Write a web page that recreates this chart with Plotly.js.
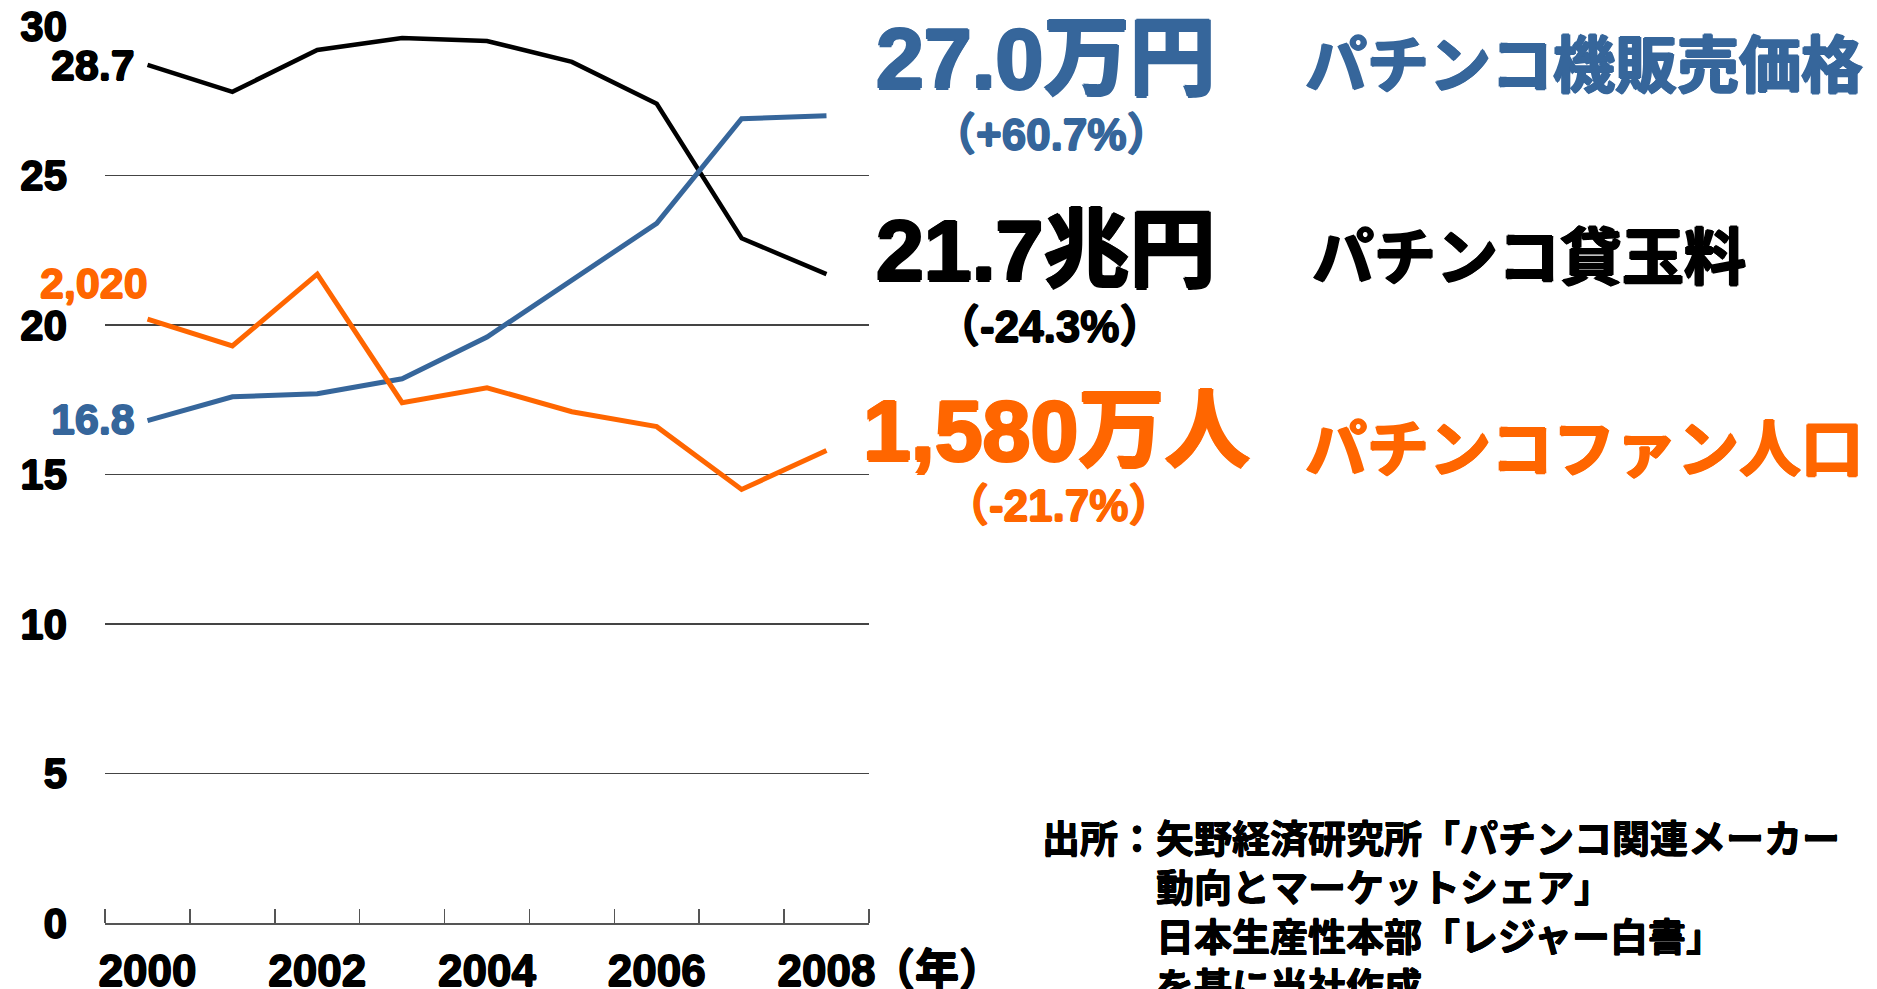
<!DOCTYPE html>
<html>
<head>
<meta charset="utf-8">
<script src="https://cdn.plot.ly/plotly-3.0.1.min.js"></script>
<style>
  html, body { margin: 0; padding: 0; background: #fff; }
  #chart { width: 1877px; height: 989px; }
</style>
</head>
<body>
<div id="chart"></div>
<script>
// ---- data ----
const years = [2000, 2001, 2002, 2003, 2004, 2005, 2006, 2007, 2008];
const yearLabels = ['2000', '', '2002', '', '2004', '', '2006', '', '2008'];
// パチンコ機販売価格 (万円)
const machinePrice = [16.8, 17.6, 17.7, 18.2, 19.6, 21.5, 23.4, 26.9, 27.0];
// パチンコ貸玉料 (兆円)
const rentalRevenue = [28.7, 27.8, 29.2, 29.6, 29.5, 28.8, 27.4, 22.9, 21.7];
// パチンコファン人口 (万人) — drawn on the chart divided by 100
const fanPopulation = [2020, 1930, 2170, 1740, 1790, 1710, 1660, 1450, 1580];
const yTicks = [0, 5, 10, 15, 20, 25, 30];

const seriesNames = ['パチンコ機販売価格', 'パチンコ貸玉料', 'パチンコファン人口'];
const endLabels = ['27.0万円', '21.7兆円', '1,580万人'];
const changeLabels = ['（+60.7%）', '（-24.3%）', '（-21.7%）'];
const unitLabel = '（年）';
const sourceLines = [
  '出所：矢野経済研究所「パチンコ関連メーカー',
  '　　　動向とマーケットシェア」',
  '　　　日本生産性本部「レジャー白書」',
  '　　　を基に当社作成'
];

// ---- styles ----
const BLUE = '#36669B';
const BLACK = '#000000';
const ORANGE = '#FF6600';
const FONT = 'Liberation Sans, Arial, Noto Sans CJK JP, sans-serif';
const CJK = 'Noto Sans CJK JP, sans-serif';

const W = 1877, H = 989;
const L = 105, R = 869, T = 26, B = 923;
const px = x => (x - L) / (R - L);
const py = y => (B - y) / (B - T);

// heavier strokes via a thin outline shadow
const heavy = (c, w) => `${w}px 0px 0px ${c}, -${w}px 0px 0px ${c}, 0px ${w}px 0px ${c}, 0px -${w}px 0px ${c}`;
const fnt = (size, color, w, family) => ({ family: family || FONT, size: size, color: color,
  weight: 'bold', shadow: w ? heavy(color, w) : 'none' });

const fanScaled = fanPopulation.map(v => v / 100);
// category boundaries (tick marks sit between the years)
const boundaries = years.map(y => y - 0.5).concat([years[years.length - 1] + 0.5]);
const xRange = [boundaries[0] - 0.001, boundaries[boundaries.length - 1] + 0.001];

const traces = [
  { x: years, y: rentalRevenue, type: 'scatter', mode: 'lines', name: seriesNames[1],
    line: { color: BLACK, width: 4.5 }, hoverinfo: 'skip' },
  { x: years, y: machinePrice, type: 'scatter', mode: 'lines', name: seriesNames[0],
    line: { color: BLUE, width: 5 }, hoverinfo: 'skip' },
  { x: years, y: fanScaled, type: 'scatter', mode: 'lines', name: seriesNames[2],
    line: { color: ORANGE, width: 5 }, hoverinfo: 'skip' }
];

function ann(text, x, y, font, xanchor) {
  return { text: text, xref: 'paper', yref: 'paper', x: px(x), y: py(y),
    xanchor: xanchor || 'left', yanchor: 'middle', showarrow: false, align: 'left', font: font };
}
function dataAnn(text, yval, color, xshift, yshift) {
  return { text: text, xref: 'x', yref: 'y', x: years[0], y: yval,
    xanchor: 'right', yanchor: 'middle', xshift: xshift, yshift: yshift, showarrow: false,
    font: fnt(43, color, 0.8) };
}

const fmt = n => n.toLocaleString('en-US');

const annotations = [
  // first-point data labels
  dataAnn(rentalRevenue[0].toFixed(1), rentalRevenue[0], BLACK, -11, 0),
  dataAnn(machinePrice[0].toFixed(1), machinePrice[0], BLUE, -11, 2),
  dataAnn(fmt(fanPopulation[0]), fanScaled[0], ORANGE, 2, 36),
  // right-side summaries
  ann(endLabels[0], 874, 58, fnt(86, BLUE, 1.5)),
  ann(changeLabels[0], 1051, 134, fnt(44, BLUE, 0.8), 'center'),
  ann(seriesNames[0], 1303, 61, fnt(62, BLUE, 1.2, CJK)),
  ann(endLabels[1], 874, 250, fnt(86, BLACK, 1.5)),
  ann(changeLabels[1], 1049, 326, fnt(44, BLACK, 0.8), 'center'),
  ann(seriesNames[1], 1310, 253, fnt(62, BLACK, 1.2, CJK)),
  ann(endLabels[2], 861, 430, fnt(86, ORANGE, 1.5)),
  ann(changeLabels[2], 1058, 505, fnt(44, ORANGE, 0.8), 'center'),
  ann(seriesNames[2], 1303, 445, fnt(62, ORANGE, 1.2, CJK)),
  // x-axis unit
  ann(unitLabel, 869, 967, fnt(44, BLACK, 0.8, CJK)),
  // source
  { text: sourceLines.join('<br>'), xref: 'paper', yref: 'paper', x: px(1040), y: py(806),
    xanchor: 'left', yanchor: 'top', align: 'left', showarrow: false,
    font: fnt(38, BLACK, 0.5, CJK) }
];

const layout = {
  width: W, height: H,
  margin: { l: L, r: W - R, t: T, b: H - B, pad: 0 },
  paper_bgcolor: '#ffffff', plot_bgcolor: '#ffffff',
  showlegend: false,
  xaxis: {
    type: 'linear', range: xRange,
    tickmode: 'array', tickvals: years, ticktext: yearLabels, tickangle: 0,
    ticks: '', showline: true, linecolor: '#555', linewidth: 1.5,
    showgrid: false, zeroline: false,
    minor: { tickmode: 'array', tickvals: boundaries, ticks: 'inside', ticklen: 14,
      tickwidth: 1.5, tickcolor: '#555', showgrid: false },
    ticklabelstandoff: 9,
    tickfont: fnt(44, BLACK, 0.8),
    fixedrange: true
  },
  yaxis: {
    range: [0, 30], tickmode: 'array', tickvals: yTicks,
    showgrid: true, gridcolor: '#444', gridwidth: 1.3,
    zeroline: false, showline: false, ticks: '',
    ticklabelstandoff: 37,
    tickfont: fnt(42, BLACK, 0.8),
    fixedrange: true
  },
  annotations: annotations
};

Plotly.newPlot('chart', traces, layout, { displayModeBar: false, staticPlot: true });
</script>
</body>
</html>
